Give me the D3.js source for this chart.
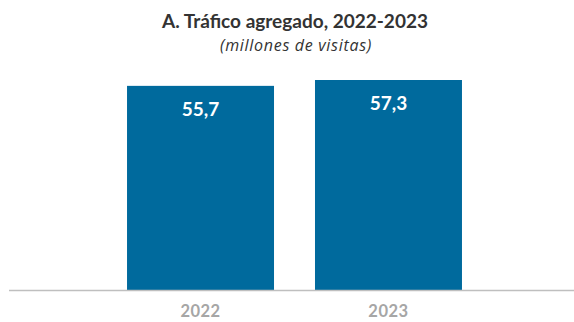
<!DOCTYPE html>
<html>
<head>
<meta charset="utf-8">
<script src="https://cdn.jsdelivr.net/npm/d3@7"></script>
<style>
  html, body { margin: 0; padding: 0; background: #fff; }
  svg { display: block; }
</style>
</head>
<body>
<svg id="chart" width="574" height="322"></svg>
<script>
// Aggregated traffic by year, millions of visits
const years = ["2022", "2023"];
const visits = [55.7, 57.3];

const width = 574, height = 322;
const svg = d3.select("#chart");
const font = "Lato, 'Open Sans', sans-serif";

const x = d3.scaleBand()
  .domain(years)
  .range([15, 574])
  .paddingInner(0.218)
  .paddingOuter(0.596);

const y = d3.scaleLinear()
  .domain([0, 57.3])
  .range([290, 80]);

const fmt = v => d3.format(".1f")(v).replace(".", ",");

// Title block
svg.append("text")
  .attr("x", 295).attr("y", 28)
  .attr("text-anchor", "middle")
  .attr("font-family", font)
  .attr("font-weight", 700)
  .attr("font-size", 19)
  .attr("fill", "#333")
  .text("A. Tráfico agregado, 2022-2023");

svg.append("text")
  .attr("x", 296).attr("y", 51)
  .attr("text-anchor", "middle")
  .attr("font-family", "'Open Sans', sans-serif")
  .attr("font-style", "italic")
  .attr("font-size", 16)
  .attr("letter-spacing", 0.7)
  .attr("fill", "#333")
  .text("(millones de visitas)");

// Bars
svg.selectAll("rect.bar")
  .data(years)
  .join("rect")
  .attr("class", "bar")
  .attr("x", d => x(d))
  .attr("width", x.bandwidth())
  .attr("y", (d, i) => y(visits[i]))
  .attr("height", (d, i) => y(0) - y(visits[i]))
  .attr("fill", "#006a9d");

// Value labels inside the bars
svg.selectAll("text.value")
  .data(years)
  .join("text")
  .attr("class", "value")
  .attr("x", d => x(d) + x.bandwidth() / 2)
  .attr("y", (d, i) => y(visits[i]) + 30)
  .attr("text-anchor", "middle")
  .attr("font-family", font)
  .attr("font-weight", 700)
  .attr("font-size", 19)
  .attr("fill", "#fff")
  .text((d, i) => fmt(visits[i]));

// Baseline
svg.append("line")
  .attr("x1", 9).attr("x2", 574)
  .attr("y1", y(0) + 0.5).attr("y2", y(0) + 0.5)
  .attr("stroke", "#bfbfbf")
  .attr("stroke-width", 1.5);

// Category axis
const xAxis = svg.append("g")
  .attr("transform", `translate(0,${y(0)})`)
  .call(d3.axisBottom(x).tickSize(0).tickPadding(15));
xAxis.select(".domain").remove();
xAxis.selectAll("text")
  .attr("font-family", font)
  .attr("font-weight", 700)
  .attr("font-size", 16.5)
  .attr("letter-spacing", 0.5)
  .attr("fill", "#a6a6a6");
</script>
</body>
</html>
